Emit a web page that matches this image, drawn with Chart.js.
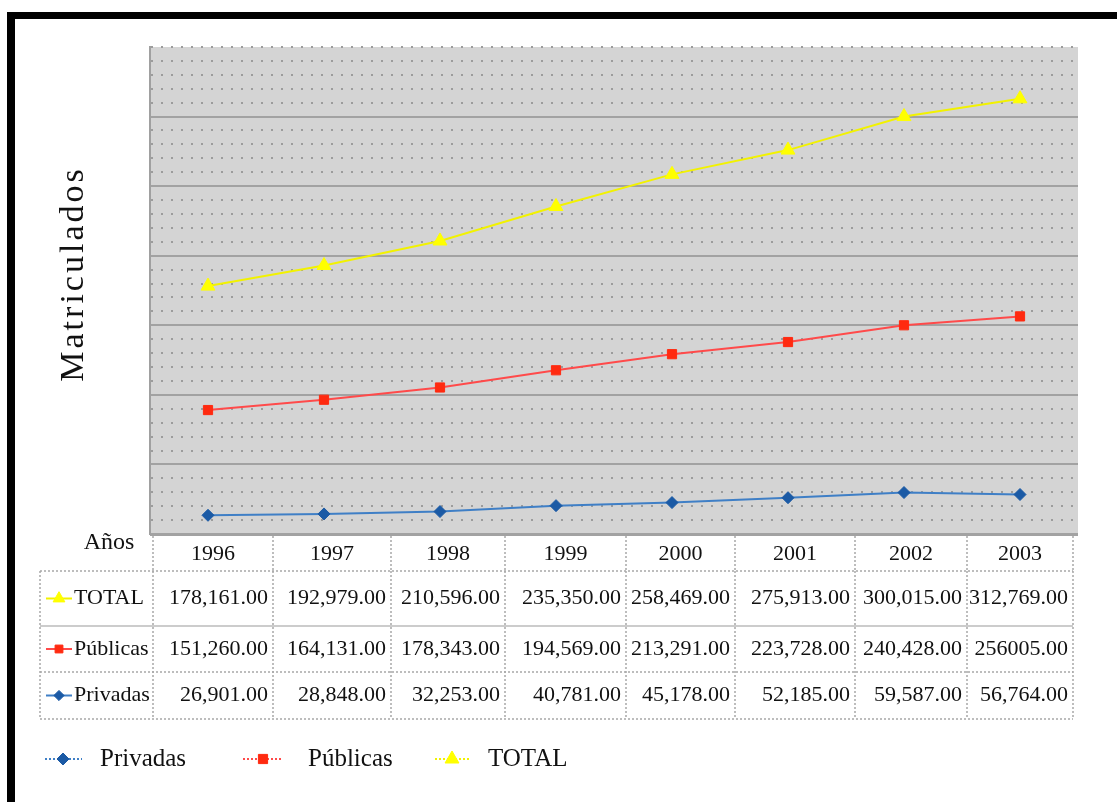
<!DOCTYPE html>
<html>
<head>
<meta charset="utf-8">
<script src="https://cdn.jsdelivr.net/npm/chart.js@4.4.1/dist/chart.umd.min.js"></script>
<style>
  html, body { margin: 0; padding: 0; background: #ffffff; }
  #wrap { width: 1117px; height: 802px; }
</style>
</head>
<body>
<div id="wrap"><canvas id="c" width="1117" height="802"></canvas></div>
<script>
// Enrolment by year, split by sector
const years    = ['1996', '1997', '1998', '1999', '2000', '2001', '2002', '2003'];
const privadas = [26901, 28848, 32253, 40781, 45178, 52185, 59587, 56764];
const publicas = [151260, 164131, 178343, 194569, 213291, 223728, 240428, 256005];
const total    = [178161, 192979, 210596, 235350, 258469, 275913, 300015, 312769];

const seriesNames = ['Privadas', 'Públicas', 'TOTAL'];
const yTitle = 'Matriculados';
const yearHeader = 'Años';

// Axis range (the series are stacked on top of each other)
const yMin = 0;
const yMax = 700000;
const majorStep = 100000;
const minorStep = 20000;

// Cells printed without thousands separator: [series index, year index]
const ungroupedCells = [[1, 7]];

const SERIF = '"Liberation Serif", "Times New Roman", "DejaVu Serif", serif';

const styles = [
  { line: '#3f7fc6', point: '#1b5aa5', shape: 'rectRot', r: 6 },
  { line: '#ff4a4a', point: '#ff2a10', shape: 'rect', r: 6.5 },
  { line: '#f2f200', point: '#ffff00', shape: 'triangle', r: 8 }
];

function fmt(v, plain) {
  if (plain) return v.toFixed(2);
  return v.toLocaleString('en-US', { minimumFractionDigits: 2, maximumFractionDigits: 2 });
}

function marker(ctx, shape, r, color, x, y) {
  ctx.save();
  ctx.fillStyle = color;
  ctx.strokeStyle = color;
  ctx.lineWidth = 1;
  if (Chart.helpers && Chart.helpers.drawPoint) {
    Chart.helpers.drawPoint(ctx, { pointStyle: shape, radius: r, rotation: 0, borderWidth: 1 }, x, y);
  } else {
    ctx.beginPath();
    if (shape === 'rect') ctx.rect(x - r * 0.7, y - r * 0.7, r * 1.4, r * 1.4);
    else if (shape === 'rectRot') { ctx.moveTo(x, y - r); ctx.lineTo(x + r, y); ctx.lineTo(x, y + r); ctx.lineTo(x - r, y); ctx.closePath(); }
    else { ctx.moveTo(x, y - r); ctx.lineTo(x + r * 0.87, y + r * 0.5); ctx.lineTo(x - r * 0.87, y + r * 0.5); ctx.closePath(); }
    ctx.fill(); ctx.stroke();
  }
  ctx.restore();
}

function hLine(ctx, x1, x2, y, dotted, color, w) {
  ctx.save();
  ctx.strokeStyle = color; ctx.lineWidth = w;
  ctx.setLineDash(dotted ? [2, 2] : []);
  ctx.beginPath(); ctx.moveTo(x1, y); ctx.lineTo(x2, y); ctx.stroke();
  ctx.restore();
}
function vLine(ctx, x, y1, y2, dotted, color, w) {
  ctx.save();
  ctx.strokeStyle = color; ctx.lineWidth = w;
  ctx.setLineDash(dotted ? [2, 2] : []);
  ctx.beginPath(); ctx.moveTo(x, y1); ctx.lineTo(x, y2); ctx.stroke();
  ctx.restore();
}

// Grey plot background and the heavy black frame
const backdrop = {
  id: 'backdrop',
  beforeDraw(chart) {
    const { ctx, chartArea: a } = chart;
    ctx.save();
    ctx.fillStyle = '#ffffff';
    ctx.fillRect(0, 0, chart.width, chart.height);
    ctx.fillStyle = '#d4d4d4';
    ctx.fillRect(a.left, a.top, a.right - a.left, a.bottom - a.top);
    ctx.fillStyle = '#000000';
    ctx.fillRect(7, 12, chart.width - 7, 7);
    ctx.fillRect(7, 12, 8, chart.height - 12);
    ctx.restore();
  }
};

// Axis title, data table under the plot and the legend row
const extras = {
  id: 'extras',
  afterDraw(chart) {
    const { ctx } = chart;
    const sets = chart.data.datasets;

    // rotated axis title
    ctx.save();
    ctx.translate(74, 274);
    ctx.rotate(-Math.PI / 2);
    ctx.font = '34px ' + SERIF;
    if ('letterSpacing' in ctx) ctx.letterSpacing = '3px';
    ctx.fillStyle = '#111111';
    ctx.textAlign = 'center';
    ctx.textBaseline = 'middle';
    ctx.fillText(yTitle, 0, 0);
    ctx.restore();

    // table grid
    const cols = [153, 273, 391, 505, 626, 735, 855, 967, 1073];
    const left = 40;
    const headTop = 536, headBottom = 571;
    const rowLines = [571, 626, 672, 719];
    const grey = '#a8a8a8';

    cols.forEach(x => vLine(ctx, x, headTop, headBottom, true, grey, 1.5));
    rowLines.forEach((y, i) => {
      if (i === 1) hLine(ctx, left, cols[cols.length - 1], y, false, '#cccccc', 2);
      else hLine(ctx, left, cols[cols.length - 1], y, true, grey, 1.5);
    });
    [left].concat(cols).forEach(x => vLine(ctx, x, headBottom, rowLines[rowLines.length - 1], true, grey, 1.5));

    ctx.save();
    ctx.fillStyle = '#111111';
    ctx.textBaseline = 'middle';

    ctx.font = '24px ' + SERIF;
    ctx.textAlign = 'center';
    ctx.fillText(chart.options.plugins.extras.header, 109, 543);

    ctx.font = '22px ' + SERIF;
    chart.data.labels.forEach((lab, j) => {
      ctx.fillText(lab, (cols[j] + cols[j + 1]) / 2, 554);
    });

    // rows: TOTAL, Públicas, Privadas (reverse dataset order)
    const order = [2, 1, 0];
    order.forEach((di, r) => {
      const yc = (rowLines[r] + rowLines[r + 1]) / 2;
      const st = styles[di];
      hLine(ctx, 46, 72, yc, false, st.line, 2);
      marker(ctx, st.shape, st.r * 0.85, st.point, 59, yc);
      ctx.fillStyle = '#111111';
      ctx.textAlign = 'left';
      ctx.fillText(sets[di].label, 74, yc);
      ctx.textAlign = 'right';
      sets[di].data.forEach((v, j) => {
        const plain = ungroupedCells.some(c => c[0] === di && c[1] === j);
        ctx.fillText(fmt(v, plain), cols[j + 1] - 5, yc);
      });
    });

    // legend
    const legendY = 759;
    const items = [
      { c: 63, l: 45, r: 82, t: 100 },
      { c: 263, l: 243, r: 283, t: 308 },
      { c: 452, l: 435, r: 470, t: 488 }
    ];
    ctx.font = '25px ' + SERIF;
    ctx.textAlign = 'left';
    items.forEach((it, di) => {
      const st = styles[di];
      hLine(ctx, it.l, it.r, legendY, true, st.line, 2);
      marker(ctx, st.shape, st.r, st.point, it.c, legendY);
      ctx.fillStyle = '#111111';
      ctx.fillText(sets[di].label, it.t, legendY);
    });
    ctx.restore();
  }
};

const seriesData = [privadas, publicas, total];

new Chart(document.getElementById('c'), {
  type: 'line',
  data: {
    labels: years,
    datasets: seriesData.map((d, i) => ({
      label: seriesNames[i],
      data: d,
      borderColor: styles[i].line,
      backgroundColor: styles[i].point,
      pointBackgroundColor: styles[i].point,
      pointBorderColor: styles[i].point,
      pointStyle: styles[i].shape,
      pointRadius: styles[i].r,
      pointBorderWidth: 1,
      borderWidth: 2,
      tension: 0,
      fill: false
    }))
  },
  options: {
    responsive: false,
    animation: false,
    devicePixelRatio: 1,
    layout: { padding: { left: 150, top: 47, right: 39, bottom: 268 } },
    plugins: {
      legend: { display: false },
      tooltip: { enabled: false },
      title: { display: false },
      extras: { header: yearHeader }
    },
    scales: {
      x: { type: 'category', offset: true, display: false },
      y: {
        stacked: true,
        min: yMin, max: yMax,
        ticks: { display: false, stepSize: minorStep },
        grid: { color: '#9c9c9c', lineWidth: 2, drawTicks: false },
        border: { display: true, color: '#a0a0a0', width: 2, dash: [2, 8] }
      },
      y2: {
        position: 'left',
        min: yMin, max: yMax,
        ticks: { display: false, stepSize: majorStep },
        grid: {
          drawTicks: false,
          color: c => (c.tick && c.tick.value === yMax) ? 'rgba(0,0,0,0)' : '#a2a2a2',
          lineWidth: c => (c.tick && c.tick.value === yMin) ? 3 : 2
        },
        border: { display: false }
      }
    }
  },
  plugins: [backdrop, extras]
});
</script>
</body>
</html>
